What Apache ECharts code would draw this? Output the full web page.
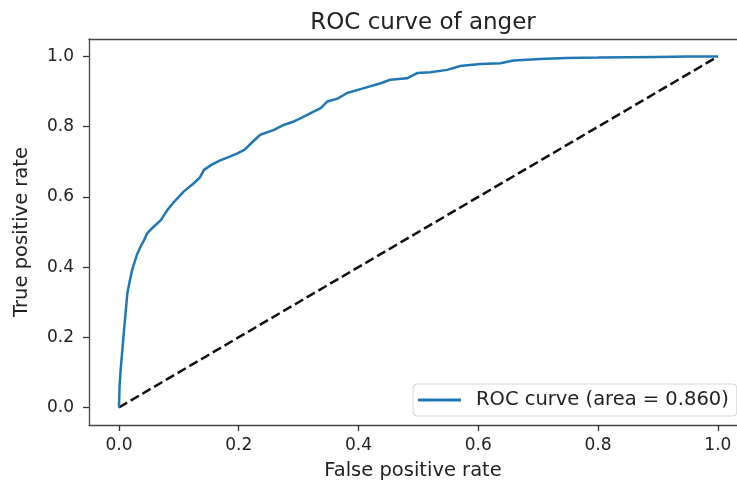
<!DOCTYPE html>
<html>
<head>
<meta charset="utf-8">
<script src="https://cdn.jsdelivr.net/npm/echarts@6/dist/echarts.min.js"></script>
<style>
  html, body { margin: 0; padding: 0; background: #fff; }
  #chart { width: 737px; height: 481px; }
</style>
</head>
<body>
<div id="chart"></div>
<script>
// ROC curve points
const fpr = [0, 0.001, 0.003, 0.006, 0.008, 0.011, 0.014, 0.018, 0.022, 0.03,
  0.036, 0.042, 0.047, 0.058, 0.07, 0.081, 0.09, 0.1, 0.108, 0.125,
  0.135, 0.142, 0.155, 0.17, 0.185, 0.198, 0.21, 0.225, 0.236, 0.259,
  0.275, 0.292, 0.303, 0.325, 0.337, 0.348, 0.365, 0.381, 0.409, 0.437,
  0.453, 0.481, 0.498, 0.52, 0.548, 0.57, 0.603, 0.637, 0.659, 0.703,
  0.748, 0.8, 0.85, 0.9, 0.95, 1.0]
const tpr = [0, 0.06, 0.111, 0.17, 0.211, 0.268, 0.325, 0.36, 0.392, 0.435,
  0.458, 0.477, 0.496, 0.515, 0.534, 0.563, 0.582, 0.6, 0.615, 0.639,
  0.655, 0.677, 0.692, 0.705, 0.715, 0.724, 0.735, 0.76, 0.777, 0.791,
  0.805, 0.815, 0.824, 0.843, 0.853, 0.872, 0.88, 0.896, 0.91, 0.924,
  0.934, 0.938, 0.953, 0.955, 0.962, 0.973, 0.979, 0.981, 0.989, 0.993,
  0.996, 0.997, 0.998, 0.999, 1.0, 1.0]
const chanceX = [0, 1]
const chanceY = [0, 1]
const ticks = [0, 0.2, 0.4, 0.6, 0.8, 1.0]
const seriesName = 'ROC curve (area = 0.860)'

const font = 'DejaVu Sans'
const textColor = '#222'
const spine = { show: true, onZero: false, lineStyle: { color: '#444', width: 1.3 } }

const axisCommon = {
  type: 'value',
  nameLocation: 'middle',
  nameTextStyle: { fontFamily: font, fontSize: 19.5, color: textColor },
  axisLine: spine,
  splitLine: { show: false },
  axisTick: { show: true, length: 6, inside: false, customValues: ticks,
    lineStyle: { color: '#333', width: 1.3 } },
  axisLabel: { customValues: ticks, fontFamily: font, fontSize: 17, color: textColor,
    formatter: v => v.toFixed(1) }
}

const chart = echarts.init(document.getElementById('chart'))
chart.setOption({
  animation: false,
  title: {
    text: 'ROC curve of anger',
    left: 418,
    top: 7,
    textAlign: 'center',
    textStyle: { fontFamily: font, fontSize: 23, fontWeight: 'normal', color: textColor }
  },
  grid: { left: 89, top: 39, bottom: 56, right: 0, outerBoundsMode: 'none' },
  legend: {
    data: [{ name: seriesName, icon: 'rect' }],
    left: 413, top: 384,
    itemWidth: 43, itemHeight: 3,
    padding: [6, 8, 6, 5],
    borderColor: '#d5d5d5', borderWidth: 1, borderRadius: 4,
    textStyle: { fontFamily: font, fontSize: 19.5, color: textColor, padding: [0, 0, 0, 10] }
  },
  xAxis: [
    Object.assign({}, axisCommon, {
      min: -0.05, max: 1.032,
      name: 'False positive rate', nameGap: 36,
      axisLabel: Object.assign({}, axisCommon.axisLabel, { margin: 12 })
    }),
    {
      // top spine only
      type: 'value', position: 'top', min: -0.05, max: 1.032,
      axisLine: spine, axisTick: { show: false }, axisLabel: { show: false },
      splitLine: { show: false }
    }
  ],
  yAxis: Object.assign({}, axisCommon, {
    min: -0.05, max: 1.05,
    name: 'True positive rate', nameGap: 57,
    axisLabel: Object.assign({}, axisCommon.axisLabel, { margin: 15 })
  }),
  series: [
    {
      type: 'line',
      name: 'chance',
      data: chanceX.map((x, i) => [x, chanceY[i]]),
      showSymbol: false,
      lineStyle: { color: '#111', width: 2.5, type: [9.5, 4.1] }
    },
    {
      type: 'line',
      name: seriesName,
      data: fpr.map((x, i) => [x, tpr[i]]),
      showSymbol: false,
      color: '#1f77b4',
      lineStyle: { color: '#1f77b4', width: 2.5 }
    }
  ]
})
</script>
</body>
</html>
